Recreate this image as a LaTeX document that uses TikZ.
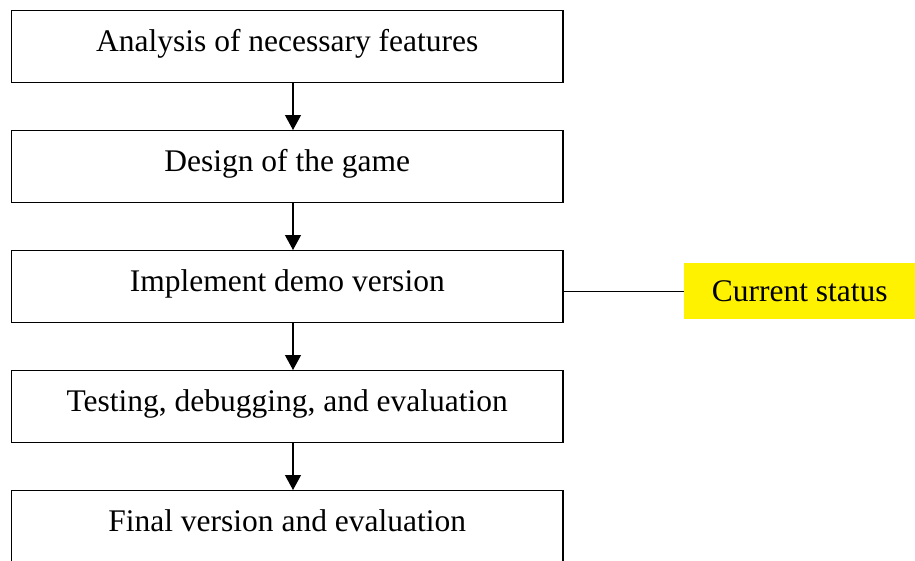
\documentclass[tikz,border=0pt]{standalone}
\usepackage{fontspec}
\setmainfont{Liberation Serif}
\usetikzlibrary{arrows.meta}
\begin{document}
\begin{tikzpicture}[x=1pt,y=-1pt,
  stepbox/.style={draw=black, line width=1.2pt, rectangle, minimum width=551.5pt,
    inner xsep=0pt, inner ysep=0pt, text height=41pt, text depth=31pt,
    font=\fontsize{31.5pt}{36pt}\selectfont, anchor=north},
  flow/.style={line width=1.1pt, -{Triangle[length=15pt,width=16pt]}},
  statusbox/.style={fill=yellow, draw=none, rectangle, minimum width=231pt,
    inner xsep=0pt, inner ysep=0pt, text height=38.7pt, text depth=17.3pt,
    font=\fontsize{31.5pt}{36pt}\selectfont, anchor=north west}]
\useasboundingbox (0,0) rectangle (915,560);
\node[stepbox] (b1) at (287.25,10) {Analysis of necessary features};
\node[stepbox] (b2) at (287.25,130) {Design of the game};
\node[stepbox] (b3) at (287.25,250) {Implement demo version};
\node[stepbox] (b4) at (287.25,370) {Testing, debugging, and evaluation};
\node[stepbox] (b5) at (287.25,490) {Final version and evaluation};
\node[statusbox] (cs) at (684,263) {Current status};
\draw[flow] ([xshift=5.75pt]b1.south) -- ([xshift=5.75pt]b2.north);
\draw[flow] ([xshift=5.75pt]b2.south) -- ([xshift=5.75pt]b3.north);
\draw[flow] ([xshift=5.75pt]b3.south) -- ([xshift=5.75pt]b4.north);
\draw[flow] ([xshift=5.75pt]b4.south) -- ([xshift=5.75pt]b5.north);
\draw[line width=1.1pt] (b3.east |- cs.west) -- (cs.west);
\end{tikzpicture}
\end{document}
